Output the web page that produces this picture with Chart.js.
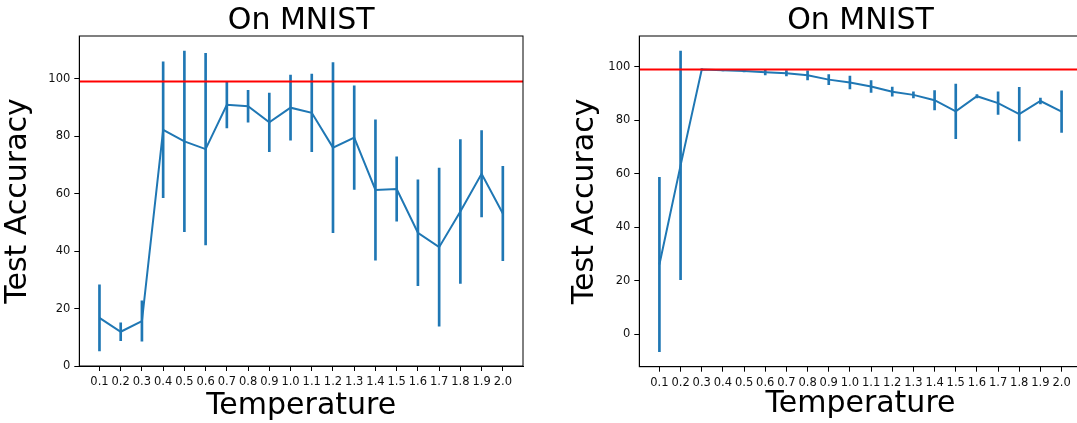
<!DOCTYPE html>
<html>
<head>
<meta charset="utf-8">
<script src="https://cdn.jsdelivr.net/npm/chart.js@4.4.0/dist/chart.umd.min.js"></script>
<style>
  html, body { margin: 0; padding: 0; background: #fff; }
  #wrap { position: relative; width: 1077px; height: 423px; overflow: hidden; }
  .panel { position: absolute; top: 0; }
  #left { left: 0; }
  #right { left: 560px; }
</style>
</head>
<body>
<div id="wrap">
  <div class="panel" id="left"><canvas id="chartLeft" width="540" height="423"></canvas></div>
  <div class="panel" id="right"><canvas id="chartRight" width="540" height="423"></canvas></div>
</div>
<script>
// data
const temperatures = [0.1, 0.2, 0.3, 0.4, 0.5, 0.6, 0.7, 0.8, 0.9, 1.0,
  1.1, 1.2, 1.3, 1.4, 1.5, 1.6, 1.7, 1.8, 1.9, 2.0];

const leftMeans = [16.8, 12.0, 15.7, 82.2, 78.2, 75.5, 90.9, 90.4, 84.8, 89.9,
  88.1, 76.0, 79.5, 61.3, 61.6, 46.4, 41.4, 53.8, 66.9, 53.1];
const leftErrors = [11.5, 3.1, 7.0, 23.6, 31.4, 33.3, 8.0, 5.5, 10.2, 11.3,
  13.5, 29.6, 18.0, 24.4, 11.2, 18.4, 27.5, 25.0, 15.0, 16.4];

const rightMeans = [26.0, 63.1, 99.0, 98.7, 98.4, 98.0, 97.6, 96.8, 95.2, 94.1,
  92.6, 90.7, 89.5, 87.5, 83.3, 89.0, 86.4, 82.3, 87.2, 83.2];
const rightErrors = [32.6, 42.8, 0.2, 0.2, 0.3, 1.0, 1.0, 1.7, 1.9, 2.4,
  2.2, 1.7, 1.1, 3.6, 10.2, 0.6, 4.2, 10.0, 1.1, 7.8];

const referenceAccuracy = 99;
const yTickValues = [0, 20, 40, 60, 80, 100];

const chartTitle = "On MNIST";
const xLabel = "Temperature";
const yLabel = "Test Accuracy";

const blue = "#1f77b4";
Chart.defaults.font.family = '"DejaVu Sans", sans-serif';
Chart.defaults.color = "#111";

// matplotlib style 5% margins
function withMargin(lo, hi) {
  const m = (hi - lo) * 0.05;
  return [lo - m, hi + m];
}

const framePlugin = {
  id: "frame",
  afterDatasetsDraw(chart) {
    const { ctx, chartArea: a } = chart;
    ctx.save();
    ctx.strokeStyle = "#000";
    ctx.lineWidth = 1;
    ctx.strokeRect(a.left, a.top, a.right - a.left, a.bottom - a.top);
    ctx.restore();
  },
};

const headingPlugin = {
  id: "heading",
  afterDraw(chart) {
    const { ctx, chartArea: a } = chart;
    ctx.save();
    ctx.font = '30px "DejaVu Sans"';
    ctx.fillStyle = "#000";
    ctx.textAlign = "center";
    ctx.textBaseline = "alphabetic";
    ctx.fillText(chartTitle, (a.left + a.right) / 2, 28.5);
    ctx.restore();
  },
};

function makeChart(canvasId, means, errors, opts) {
  const lows = means.map((m, i) => m - errors[i]);
  const highs = means.map((m, i) => m + errors[i]);
  const [yMin, yMax] = withMargin(Math.min(...lows), Math.max(...highs));
  const [xMin, xMax] = withMargin(temperatures[0], temperatures[temperatures.length - 1]);

  return new Chart(document.getElementById(canvasId), {
    type: "line",
    data: {
      datasets: [
        {
          type: "line",
          data: [{ x: xMin, y: referenceAccuracy }, { x: xMax, y: referenceAccuracy }],
          borderColor: "#ff0000",
          borderWidth: 2,
          pointRadius: 0,
          order: 0,
        },
        {
          type: "line",
          data: temperatures.map((t, i) => ({ x: t, y: means[i] })),
          borderColor: blue,
          borderWidth: 2,
          pointRadius: 0,
          tension: 0,
          order: 1,
        },
        {
          type: "bar",
          data: temperatures.map((t, i) => ({ x: t, y: [lows[i], highs[i]] })),
          backgroundColor: blue,
          borderWidth: 0,
          barThickness: 2,
          grouped: false,
          order: 2,
        },
      ],
    },
    options: {
      responsive: false,
      animation: false,
      events: [],
      layout: { padding: { top: 36, right: opts.padRight, left: 0, bottom: 0 } },
      plugins: { legend: { display: false }, tooltip: { enabled: false } },
      scales: {
        x: {
          type: "linear",
          min: xMin,
          max: xMax,
          offset: false,
          afterBuildTicks: (s) => { s.ticks = temperatures.map((v) => ({ value: v })); },
          afterFit: (s) => { s.height = opts.xAxisHeight; },
          ticks: {
            autoSkip: false,
            maxRotation: 0,
            minRotation: 0,
            padding: 4,
            font: { size: 11.5 },
            callback: (v) => Number(v).toFixed(1),
          },
          grid: { drawOnChartArea: false, drawTicks: true, tickLength: 5, color: "#000", offset: false },
          border: { display: true, color: "#000" },
          title: {
            display: true,
            text: xLabel,
            color: "#000",
            font: { size: 30, lineHeight: 1 },
            padding: { top: 0, bottom: opts.xTitlePad },
          },
        },
        y: {
          type: "linear",
          min: yMin,
          max: yMax,
          afterBuildTicks: (s) => { s.ticks = yTickValues.map((v) => ({ value: v })); },
          afterFit: (s) => { s.width = 79.3; },
          ticks: { padding: 4, font: { size: 11.5 } },
          grid: { drawOnChartArea: false, drawTicks: true, tickLength: 5, color: "#000" },
          border: { display: true, color: "#000" },
          title: {
            display: true,
            text: yLabel,
            color: "#000",
            font: { size: 30, lineHeight: 1 },
            padding: { top: opts.yTitlePad, bottom: 0 },
          },
        },
      },
    },
    plugins: [framePlugin, headingPlugin],
  });
}

makeChart("chartLeft", leftMeans, leftErrors, {
  padRight: 17, xAxisHeight: 57, xTitlePad: 1.7, yTitlePad: 3.5,
});
makeChart("chartRight", rightMeans, rightErrors, {
  padRight: 18.3, xAxisHeight: 56.3, xTitlePad: 3.4, yTitlePad: 10,
});
</script>
</body>
</html>
